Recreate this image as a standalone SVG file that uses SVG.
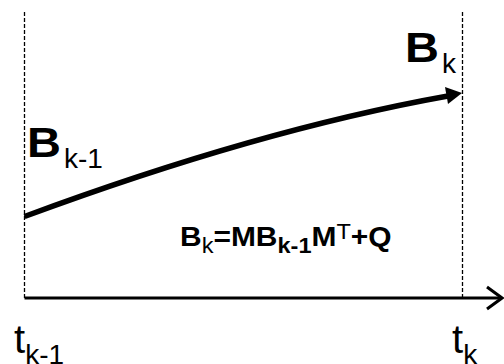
<svg xmlns="http://www.w3.org/2000/svg" width="504" height="364" viewBox="0 0 504 364">
<style>
.dash{stroke:#000;stroke-width:1.3;stroke-dasharray:4,2;fill:none}
.big{font-family:"Liberation Sans",Arial,sans-serif;font-weight:bold;font-size:42px;fill:#000}
.sub{font-family:"Liberation Sans",Arial,sans-serif;font-size:28px;fill:#000}
.t{font-family:"Liberation Sans",Arial,sans-serif;font-size:40px;fill:#000}
.eq{font-family:"Liberation Sans",Arial,sans-serif;font-weight:bold;font-size:28px;fill:#000}
.eqs{font-size:22px}
</style>
<rect width="504" height="364" fill="#fff"/>
<g id="guides">
<line class="dash" x1="24.5" y1="12" x2="24.5" y2="298"/>
<line class="dash" x1="462.5" y1="12" x2="462.5" y2="298"/>
</g>
<g id="connectors">
<path d="M24.5 298 H502" stroke="#000" stroke-width="3" fill="none"/>
<path d="M487 287 L502 298 L487 309" stroke="#000" stroke-width="3" fill="none"/>
<path d="M24.5 216.5 Q258 130 448 96" stroke="#000" stroke-width="5.5" fill="none"/>
<polygon points="462,93 445,87 448,104" fill="#000"/>
</g>
<g id="label-bk1">
<text transform="translate(27,157) scale(1.12,1)" class="big">B</text>
<text x="64" y="168" class="sub">k-1</text>
</g>
<g id="label-bk">
<text transform="translate(405,62) scale(1.12,1)" class="big">B</text>
<text x="442" y="73" class="sub">k</text>
</g>
<g id="equation">
<text transform="translate(180,246) scale(1.07,1)" class="eq">B<tspan class="eqs" font-weight="normal" dy="7">k</tspan><tspan dy="-7">=MB</tspan><tspan class="eqs" dy="7">k-1</tspan><tspan dy="-7">M</tspan><tspan class="eqs" font-weight="normal" dy="-7">T</tspan><tspan dy="7">+Q</tspan></text>
</g>
<g id="label-tk1">
<text x="14" y="353" class="t">t<tspan class="sub" font-size="29" dy="11">k-1</tspan></text>
</g>
<g id="label-tk">
<text x="452" y="353" class="t">t<tspan class="sub" font-size="29" dy="11">k</tspan></text>
</g>
</svg>
